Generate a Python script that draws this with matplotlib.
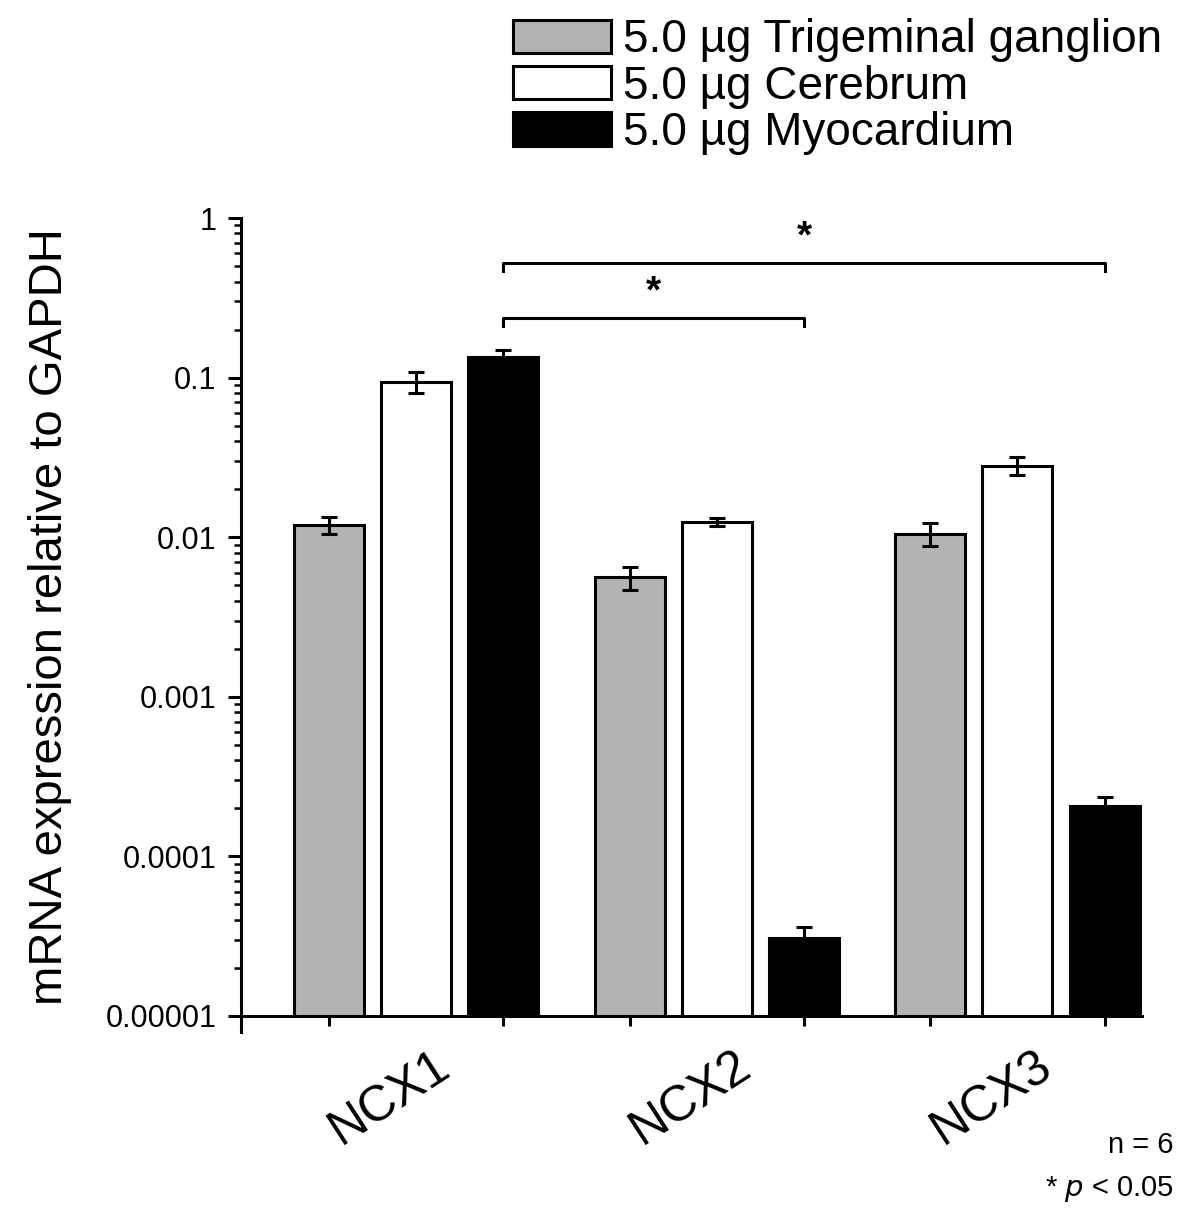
import numpy as np
import matplotlib
matplotlib.use("Agg")
import matplotlib.pyplot as plt
from matplotlib.patches import Patch
from matplotlib.transforms import ScaledTranslation

plt.rcParams['font.family'] = ['Liberation Sans', 'DejaVu Sans']

# data
genes = ['NCX1', 'NCX2', 'NCX3']
tissues = ['5.0 µg Trigeminal ganglion', '5.0 µg Cerebrum', '5.0 µg Myocardium']
trigeminal = [0.0119, 0.0056, 0.0105]
trigeminal_err = [0.0014, 0.0009, 0.0017]
cerebrum = [0.094, 0.0124, 0.028]
cerebrum_err = [0.014, 0.0007, 0.0036]
myocardium = [0.135, 3.1e-5, 2.06e-4]
myocardium_err = [0.015, 0.5e-5, 0.3e-4]
ytick_vals = [1e-5, 1e-4, 1e-3, 1e-2, 1e-1, 1]
ytick_labels = ['0.00001', '0.0001', '0.001', '0.01', '0.1', '1']

colors = ['#b3b3b3', 'white', 'black']
series = [(trigeminal, trigeminal_err), (cerebrum, cerebrum_err), (myocardium, myocardium_err)]

fig = plt.figure(figsize=(12, 12.16), dpi=100)
ax = fig.add_axes([0.2008, 0.1645, 0.7505, 0.6562])

x = np.arange(len(genes))
offset = 0.29
width = 0.233
bar_centers = []
for i, (vals, errs) in enumerate(series):
    pos = x + (i - 1) * offset
    bar_centers.extend(pos)
    ax.bar(pos, vals, width, color=colors[i], edgecolor='black', linewidth=2.2, zorder=2)
    ax.errorbar(pos, vals, yerr=errs, fmt='none', ecolor='black', elinewidth=2.2,
                capsize=5.8, capthick=2.2, zorder=3)

ax.set_yscale('log')
ax.set_ylim(1e-5, 1)
ax.set_xlim(-0.583, 2.413)
ax.set_yticks(ytick_vals)
ax.set_yticklabels(ytick_labels)
ax.tick_params(axis='y', which='major', length=9.5, width=2.2, labelsize=22, pad=8)
ax.tick_params(axis='y', which='minor', length=5, width=1.8)

ax.set_xticks(x)
ax.set_xticklabels(genes, rotation=33, fontsize=36)
ax.set_xticks(bar_centers, minor=True)
ax.tick_params(axis='x', which='major', length=0, pad=19)
ax.tick_params(axis='x', which='minor', length=7, width=2.2)
for lbl in ax.get_xticklabels():
    lbl.set_transform(lbl.get_transform() + ScaledTranslation(-0.26, 0, fig.dpi_scale_trans))

for s in ['top', 'right']:
    ax.spines[s].set_visible(False)
for s in ['left', 'bottom']:
    ax.spines[s].set_linewidth(2.2)
ax.spines['left'].set_bounds(10 ** -5.1, 1)

ax.set_ylabel('mRNA expression relative to GAPDH', fontsize=34, labelpad=24)

# significance brackets
brackets = [(x[0] + offset, x[1] + offset, 0.236, 0.21, 0.34),
            (x[0] + offset, x[2] + offset, 0.522, 0.466, 0.75)]
for x0, x1, yb, yt, ys in brackets:
    ax.plot([x0, x0, x1, x1], [yt, yb, yb, yt], color='black', lw=2.2, clip_on=False)
    ax.text((x0 + x1) / 2, ys, '*', ha='center', va='center', fontsize=28, fontweight='bold')

handles = [Patch(facecolor=c, edgecolor='black', linewidth=2.2) for c in colors]
fig.legend(handles, tissues, loc='upper left', bbox_to_anchor=(0.4125, 1.0), frameon=False,
           fontsize=33, handlelength=2.14, handleheight=0.74, handletextpad=0.25,
           labelspacing=0.05, borderaxespad=0)

fig.text(0.978, 0.058, 'n = 6', ha='right', va='center', fontsize=21)
fig.text(0.978, 0.022, '* $\\mathit{p}$ < 0.05', ha='right', va='center', fontsize=21)

fig.savefig('out.png', dpi=100)
